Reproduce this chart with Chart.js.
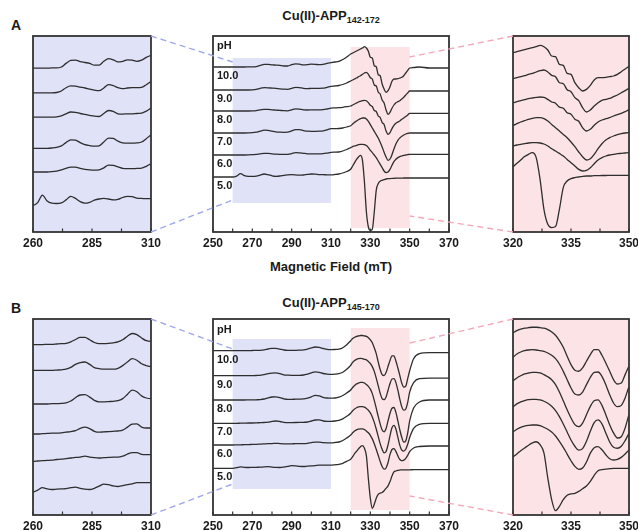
<!DOCTYPE html>
<html><head><meta charset="utf-8">
<script src="https://cdn.jsdelivr.net/npm/chart.js@4.4.0/dist/chart.umd.min.js"></script>
<style>
html,body{margin:0;padding:0;background:#fff;}
body{width:638px;height:531px;position:relative;overflow:hidden;font-family:"Liberation Sans",Arial,sans-serif;}
canvas{position:absolute;}
.t{position:absolute;font-weight:bold;color:#1a1a1a;white-space:nowrap;}
.t sub{font-size:9px;vertical-align:-3px;}
</style></head><body>
<div class="t" style="left:11px;top:17px;font-size:14px;line-height:16px;">A</div>
<div class="t" style="left:11px;top:300px;font-size:14px;line-height:16px;">B</div>
<div class="t" style="left:213px;width:236px;text-align:center;top:8px;font-size:13px;line-height:15px;">Cu(II)-APP<sub>142-172</sub></div>
<div class="t" style="left:213px;width:236px;text-align:center;top:295px;font-size:13px;line-height:15px;">Cu(II)-APP<sub>145-170</sub></div>
<div class="t" style="left:213px;width:236px;text-align:center;top:259px;font-size:13px;line-height:15px;">Magnetic Field (mT)</div>
<canvas id="aL" width="150" height="228" style="left:17px;top:30px"></canvas>
<canvas id="aM" width="268" height="228" style="left:197px;top:30px"></canvas>
<canvas id="aR" width="148" height="228" style="left:497px;top:30px"></canvas>
<canvas id="bL" width="150" height="228" style="left:17px;top:313px"></canvas>
<canvas id="bM" width="268" height="228" style="left:197px;top:313px"></canvas>
<canvas id="bR" width="148" height="228" style="left:497px;top:313px"></canvas>
<canvas id="ov" width="638" height="531" style="left:0;top:0;pointer-events:none"></canvas>
<script>
// ---------- DATA ----------
const fields = [250,255,260,262,264,266,268,270,272,274,276,278,280,282,284,286,288,290,292,294,296,298,300,302,304,306,308,310,312,314,316,318,320,321,322,323,324,325,326,327,328,329,330,331,332,333,334,335,336,337,338,339,340,341,342,343,344,345,346,347,348,349,350,352,355,360,365,370];
const phLabels = ['10.0','9.0','8.0','7.0','6.0','5.0'];
const ticksMid = [250,270,290,310,330,350,370];
const ticksLow = [260,285,310];
const ticksHigh = [320,335,350];

// Cu(II)-APP142-172, derivative EPR intensity (a.u.)
const a_pH10 = [0,0, 0,0,0,0,0.1,0.1,0.4,1.6,2.6,2.7,2.2,1.9,1.6,1.0,1.0,2.3,3.2,2.8,2.1,2.3,2.8,2.7,2.3,2.7,3.6,4.3, 5.0,5.7,7.5,10,
 13,14,15,16,17,18,19,20.3,19,15.7, 9.7,9,1.3,0.3,-7.7,-8.7,-17,-22,-25.3,-23.7, -19.7,-14.3,-12,-12,-11.7,-11,-10.3,-8.7,-6,-3.3,-1, -0.5,0,-1,-1,-1];
const a_pH9 = [0,0, 0,0,0,0,0,0.1,0.6,1.7,2.3,2.2,1.9,1.6,1.2,0.9,0.7,1.6,2.7,2.4,1.7,1.4,1.6,1.7,1.7,1.8,2.7,3.7, 4.0,4.5,5.5,7,
 9,10,11,12,13.3,14.3,15.7,17,17.7,15.7, 12.3,11,5,4,-2,-4,-10,-13,-20,-24.3, -22.3,-18.3,-15,-12.7,-11.7,-10.7,-9,-7.3,-5,-3,-1, -1,-1,-1,-1,-1];
const a_pH8 = [0,0, 0,0,0,0,0,0.1,0.4,1.1,1.7,1.6,1.2,0.9,0.6,0.3,0.2,1.2,2.2,1.9,1.1,1.0,1.1,1.1,1.2,1.3,2.0,2.9, 3.1,3.3,3.7,4.3,
 5,6,7,8,9,9.7,10.3,10.7,10.3,8.3, 5.7,4.5,0.5,-0.5,-5,-6.5,-11.5,-13.5,-20,-23.3, -21.6,-17.6,-14.3,-12.3,-11,-10,-8.3,-7,-5.6,-4,-2.3, -2.3,-2.3,-2.3,-2.3,-2.3];
const a_pH7 = [0,0, 0,0,0,0,0.1,0.3,0.8,1.9,2.8,2.7,1.9,1.2,0.9,0.7,0.8,2.1,3.4,3.3,2.4,1.8,1.7,1.7,1.8,2.1,3.2,4.3, 4.3,4.5,5,6,
 7.3,9,10.7,12,13.3,14.3,15,15,14,11.7, 8.3,5,1.7,-1.7,-5,-9.3,-14,-19.3,-24,-27.3, -26,-21.7,-16,-11,-7.3,-5,-3.3,-2,-1,-0.3,0, 0,0,0,0,0];
const a_pH6 = [0,0, 0,0,0,0,0.1,0.3,0.7,1.2,1.6,1.6,1.2,0.9,0.7,0.6,0.7,1.4,2.3,2.2,1.7,1.2,1.1,1.1,1.2,1.3,1.9,2.7, 2.8,3,4,5.5,
 7.4,8.4,9,9.7,10.4,10.7,10.7,10.4,9.4,7.4, 4.7,2.4,0,-2.6,-6,-9.3,-12.6,-16,-17.6,-17, -14.3,-10.3,-6.6,-4.3,-2.6,-1.6,-1,-0.3,0,0.4,0.7, 0.7,0.7,0.7,0.7,0.7];
const a_pH5 = [0,0, 0,0.9,3.4,1.4,0.7,0.6,0.8,1.8,3.0,2.3,1.2,0.7,1.0,1.7,2.1,2.3,2.1,1.8,2.0,2.6,3.0,2.9,2.4,2.3,2.2,2.2, 2.5,3,4,5.5,
 7.7,11,14.3,17.7,20,21.7,16.7,-5,-35,-50, -53.3,-52.3,-35,-13.3,-6.7,-4.3,-3.3,-2.7,-2,-1.7, -1.7,-1.3,-1.3,-1.2,-1.2,-1.1,-1.1,-1,-1,-1,-1, -1,-1,-1,-1,-1];

// Cu(II)-APP145-170
const b_pH10 = [0,0, 0,0,0,0.1,0.1,0.2,0.3,0.4,0.9,1.7,2.4,2.4,1.6,0.7,0.3,0.3,0.4,0.6,0.9,1.6,2.8,3.7,3.3,2.2,1.3,1.1, 1.2,1.5,3,6,
 10,12.1,13.4,14.3,14.8,15.2,15.2,14.8,14.3,13, 10.9,7.9,3,-3,-11.2,-18.8,-23.9,-24.8,-21.8,-15.7, -9.7,-5.2,-5.2,-10.3,-17.3,-24.8,-32.5,-36.4,-35.5,-27.9,-20, -8,-3,-2,-2,-2];
const b_pH9 = [0,0, 0,0,0,0,0,0.1,0.2,0.4,1.0,2.0,2.6,2.8,2.0,0.9,0.6,0.4,0.4,0.4,0.7,1.6,2.8,3.9,3.4,2.2,1.6,1.3, 1.5,2,3.5,6.5,
 10.4,13.4,15.2,16.4,17,17.3,17,16.4,15.8,14.3, 12.2,9.1,4.3,-2.4,-10,-17.5,-23,-23.9,-21.2,-14.5, -7.8,-3.3,-3,-6.9,-14.5,-23.6,-31.2,-34.5,-33.3,-26.6,-16.4, -7,-3,-2.5,-2.5,-2.5];
const b_pH8 = [0,0, 0,0,0,0,0.1,0.1,0.2,0.4,1.0,2.1,3.0,3.1,2.3,1.2,0.7,0.7,0.8,0.9,1.1,1.8,3.2,4.6,4.1,2.7,2.0,1.8, 2,2.8,4.5,7,
 10,12.5,14.5,16.1,17,17.6,17.6,17,15.5,13.6, 10.9,6.4,-0.3,-8.2,-16.4,-23.9,-30,-31.8,-28.5,-20.9, -13.3,-8.2,-7.5,-12.4,-20.9,-30,-37.5,-42.1,-40.9,-33,-20.9, -8,-2,0,0,0];
const b_pH7 = [0,0, 0,0,0.1,0.2,0.3,0.3,0.4,0.6,0.8,1.1,1.9,2.3,1.8,0.9,0.6,0.7,0.8,0.9,1.0,1.3,2.3,3.3,3.4,2.3,2.0,2.0, 2.3,3,4.5,7,
 10,12.5,14.3,15.5,16.4,16.7,16.7,16.1,14.9,13.1, 10.4,6.4,0.9,-5.7,-13,-20.3,-26,-29.6,-28.2,-21.5, -12.4,-4.5,-2.1,-5.7,-13.9,-22.1,-26.9,-27.8,-26,-20.9,-14.2, -5,-1,0,0,0];
const b_pH6 = [0,0, 0,0.1,0.2,0.3,0.4,0.6,0.7,0.9,1.1,1.3,1.4,1.7,1.4,1.2,1.1,1.2,1.3,1.4,1.4,1.7,2.4,2.9,2.9,2.3,2.2,2.2, 2.5,3,4.5,7,
 10,12.2,14,15.2,15.8,16.1,16.1,15.5,14,12.2, 9.7,6.1,1.3,-4.2,-10.3,-16.4,-21.5,-24.2,-23,-17.5, -9.4,-4.5,-3.6,-6.4,-10.9,-14.5,-15.7,-15.1,-13.3,-10.3,-6.6, -3,-1.5,-1,-1,-1];
const b_pH5 = [0,0, 0,0.6,1.4,1.0,0.8,0.9,1.0,1.1,1.4,1.6,1.2,0.9,0.8,1.2,1.9,2.6,2.4,2.0,1.8,2.1,2.4,2.7,3.1,3.1,3.1,3.1, 3.5,4,5,7,
 9.1,11.6,14.6,17,19.5,21.6,22.7,20,12.5,-10.3, -30,-40,-36,-30,-26,-24.8,-24.2,-22.4,-20,-17.5, -13.3,-7.8,-3.6,-2.7,-2.1,-1.8,-1.5,-1.5,-1.5,-1.5,-1.5, -1.4,-1.4,-1.4,-1.4,-1.4];

const spectraA = [a_pH10,a_pH9,a_pH8,a_pH7,a_pH6,a_pH5];
const spectraB = [b_pH10,b_pH9,b_pH8,b_pH7,b_pH6,b_pH5];

// ---------- LAYOUT (stack offsets, view ranges) ----------
const offA = {mid:[165,142,121,99,77,55], low:[54.6,46.4,38.3,27.9,20,8.9], high:[166.3,144.3,124.3,99.3,78.6,57.7]};
const offB = {mid:[164.3,139.3,115,91.7,70,46.7], low:[56.8,48.2,37,27,17.9,7.7], high:[155.5,133,112.1,88.5,65.7,43.9]};
const BLUE = 'rgb(224,226,248)', PINK = 'rgb(252,227,230)';

const panelPlugin = {
  id: 'panel',
  beforeDatasetsDraw(chart, args, o) {
    const {ctx, chartArea: a, scales: {x, y}} = chart;
    ctx.save();
    if (o.bg) { ctx.fillStyle = o.bg; ctx.fillRect(a.left, a.top, a.width, a.height); }
    (o.boxes || []).forEach(b => {
      ctx.fillStyle = b.color;
      const x0 = x.getPixelForValue(b.x0), x1 = x.getPixelForValue(b.x1);
      const y0 = y.getPixelForValue(b.y1), y1 = y.getPixelForValue(b.y0);
      ctx.fillRect(x0, y0, x1 - x0, y1 - y0);
    });
    ctx.restore();
  },
  afterDatasetsDraw(chart, args, o) {
    const {ctx, chartArea: a, scales: {x, y}} = chart;
    ctx.save();
    ctx.strokeStyle = '#333'; ctx.lineWidth = 1.8;
    ctx.strokeRect(a.left, a.top, a.width, a.height);
    ctx.lineWidth = 1.2;
    for (let v = x.min; v <= x.max + 1e-6; v += o.minor) {
      const px = x.getPixelForValue(v);
      ctx.beginPath(); ctx.moveTo(px, a.bottom); ctx.lineTo(px, a.bottom - 3.5); ctx.stroke();
    }
    if (o.labels) {
      ctx.fillStyle = '#1a1a1a';
      ctx.font = 'bold 11px "Liberation Sans", Arial, sans-serif';
      ctx.textBaseline = 'middle'; ctx.textAlign = 'left';
      ctx.fillText('pH', a.left + 4, y.getPixelForValue(o.offsets[0]) - 21);
      o.labels.forEach((t, i) => ctx.fillText(t, a.left + 4, y.getPixelForValue(o.offsets[i]) + 9));
    }
    ctx.restore();
  }
};

function makeChart(id, spectra, offsets, xr, yMax, tickVals, minor, extra) {
  const datasets = spectra.map((s, i) => ({
    data: fields.map((f, j) => ({x: f, y: s[j] + offsets[i]})),
    borderColor: '#2e2e2e', borderWidth: 1.3, pointRadius: 0,
    cubicInterpolationMode: 'monotone', fill: false
  }));
  return new Chart(document.getElementById(id), {
    type: 'line',
    data: {datasets},
    plugins: [panelPlugin],
    options: {
      responsive: false, animation: false, devicePixelRatio: 1, events: [],
      layout: {padding: {left: 16, right: 16, top: 6, bottom: 0}},
      plugins: {legend: {display: false}, tooltip: {enabled: false},
        panel: Object.assign({minor, offsets}, extra)},
      scales: {
        x: {type: 'linear', min: xr[0], max: xr[1],
          grid: {display: false, drawTicks: false, tickLength: 0}, border: {display: false},
          afterBuildTicks: s => { s.ticks = tickVals.map(v => ({value: v})); },
          afterFit: s => { s.height = 26; },
          ticks: {padding: 4, color: '#1a1a1a', maxRotation: 0, autoSkip: false,
            font: {family: '"Liberation Sans", Arial, sans-serif', size: 12, weight: 'bold'},
            callback: v => String(v)}},
        y: {display: false, min: 0, max: yMax}
      }
    }
  });
}

const boxesA = [{color: BLUE, x0: 260, x1: 310, y0: 29, y1: 174}, {color: PINK, x0: 320, x1: 350, y0: 4, y1: 185}];
const boxesB = [{color: BLUE, x0: 260, x1: 310, y0: 26, y1: 176}, {color: PINK, x0: 320, x1: 350, y0: 5, y1: 187}];

const aL = makeChart('aL', spectraA, offA.low, [260,310], 196/3, ticksLow, 12.5, {bg: BLUE});
const aM = makeChart('aM', spectraA, offA.mid, [250,370], 196, ticksMid, 10, {boxes: boxesA, labels: phLabels});
const aR = makeChart('aR', spectraA, offA.high, [320,350], 196, ticksHigh, 7.5, {bg: PINK});
const bL = makeChart('bL', spectraB, offB.low, [260,310], 196/3, ticksLow, 12.5, {bg: BLUE});
const bM = makeChart('bM', spectraB, offB.mid, [250,370], 196, ticksMid, 10, {boxes: boxesB, labels: phLabels});
const bR = makeChart('bR', spectraB, offB.high, [320,350], 196/1.1, ticksHigh, 7.5, {bg: PINK});

// ---------- zoom connectors ----------
function pt(ch, xv, yv) {
  return [ch.canvas.offsetLeft + ch.scales.x.getPixelForValue(xv), ch.canvas.offsetTop + ch.scales.y.getPixelForValue(yv)];
}
const ov = document.getElementById('ov').getContext('2d');
ov.setLineDash([6, 4]); ov.lineWidth = 1.4;
function seg(p, q, c) { ov.strokeStyle = c; ov.beginPath(); ov.moveTo(p[0], p[1]); ov.lineTo(q[0], q[1]); ov.stroke(); }
const BLUE_D = 'rgb(160,168,236)', PINK_D = 'rgb(244,168,184)';
[[aL, aM, aR, [170, 32, 175, 16]], [bL, bM, bR, [166, 31, 172, 19]]].forEach(([L, M, R, e]) => {
  seg(pt(L, 310, L.scales.y.max), pt(M, 260, e[0]), BLUE_D);
  seg(pt(L, 310, L.scales.y.min), pt(M, 260, e[1]), BLUE_D);
  seg(pt(R, 320, R.scales.y.max), pt(M, 350, e[2]), PINK_D);
  seg(pt(R, 320, R.scales.y.min), pt(M, 350, e[3]), PINK_D);
});
</script>
</body></html>
